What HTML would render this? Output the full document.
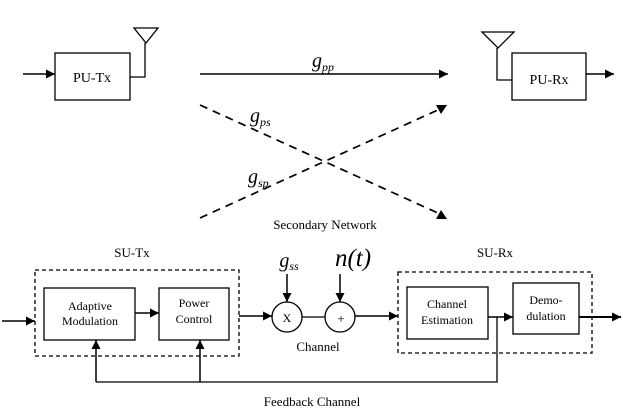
<!DOCTYPE html>
<html><head><meta charset="utf-8"><style>
html,body{margin:0;padding:0;background:#fff;}
svg{display:block;}
text{font-family:"Liberation Serif",serif;fill:#000;}
</style></head><body>
<svg width="623" height="411" viewBox="0 0 623 411" xmlns="http://www.w3.org/2000/svg">
<defs>
<marker id="b" viewBox="0 0 10 10" refX="10" refY="5" markerWidth="9" markerHeight="9" orient="auto" markerUnits="userSpaceOnUse"><path d="M0,0 L10,5 L0,10 z" fill="#000"/></marker>
</defs>
<g stroke="#000" fill="none" stroke-width="1.3">
<rect x="55" y="53" width="75" height="47"/>
<line x1="23" y1="74" x2="55" y2="74" marker-end="url(#b)" stroke-width="1.5"/>
<polyline points="130,77 145,77 145,43"/>
<polygon points="134,28 158,28 146,43"/>
<line x1="200" y1="74" x2="448" y2="74" marker-end="url(#b)" stroke-width="1.5"/>
<rect x="512" y="53" width="74" height="47"/>
<polyline points="512,80 497,80 497,48"/>
<polygon points="482,32 514,32 498,48"/>
<line x1="586" y1="74" x2="614" y2="74" marker-end="url(#b)" stroke-width="1.5"/>
<line x1="200" y1="105" x2="440" y2="214" stroke-dasharray="8,6" stroke-width="1.7"/>
<line x1="200" y1="218" x2="440" y2="109" stroke-dasharray="8,6" stroke-width="1.7"/>
</g>
<text x="92" y="82" font-size="14" text-anchor="middle">PU-Tx</text>
<text x="549" y="84" font-size="14" text-anchor="middle">PU-Rx</text>
<polygon points="436,105 447,105 441,114" fill="#000"/>
<polygon points="436,219 447,219 441,210" fill="#000"/>
<text x="312" y="67" font-size="20" font-style="italic">g<tspan font-size="12" dy="4">pp</tspan></text>
<text x="250" y="122" font-size="20" font-style="italic">g<tspan font-size="12" dy="4">ps</tspan></text>
<text x="248" y="183" font-size="20" font-style="italic">g<tspan font-size="12" dy="4">sp</tspan></text>
<text x="325" y="229" font-size="13" text-anchor="middle">Secondary Network</text>

<text x="132" y="257" font-size="13" text-anchor="middle">SU-Tx</text>
<text x="495" y="257" font-size="13" text-anchor="middle">SU-Rx</text>
<g stroke="#000" fill="none" stroke-width="1.3">
<rect x="35" y="270" width="204" height="86" stroke-dasharray="4,3"/>
<rect x="398" y="272" width="194" height="81" stroke-dasharray="4,3"/>
<rect x="44" y="288" width="91" height="52"/>
<rect x="159" y="288" width="70" height="52"/>
<rect x="407" y="287" width="81" height="52"/>
<rect x="513" y="283" width="66" height="51"/>
<line x1="2" y1="321" x2="35" y2="321" marker-end="url(#b)" stroke-width="1.5"/>
<line x1="135" y1="313" x2="159" y2="313" marker-end="url(#b)" stroke-width="1.5"/>
<line x1="239" y1="316" x2="272" y2="316" marker-end="url(#b)" stroke-width="1.5"/>
<circle cx="287" cy="317" r="15"/>
<circle cx="340" cy="317" r="15"/>
<line x1="302" y1="317" x2="325" y2="317"/>
<line x1="355" y1="316" x2="398" y2="316" marker-end="url(#b)" stroke-width="1.5"/>
<line x1="287" y1="274" x2="287" y2="302" marker-end="url(#b)" stroke-width="1.5"/>
<line x1="340" y1="274" x2="340" y2="302" marker-end="url(#b)" stroke-width="1.5"/>
<line x1="488" y1="317" x2="513" y2="317" marker-end="url(#b)" stroke-width="1.5"/>
<line x1="579" y1="317" x2="621" y2="317" marker-end="url(#b)" stroke-width="2"/>
<polyline points="497,317 497,382 96,382"/>
<line x1="96" y1="382" x2="96" y2="340" marker-end="url(#b)" stroke-width="1.5"/>
<line x1="200" y1="382" x2="200" y2="340" marker-end="url(#b)" stroke-width="1.5"/>
</g>
<text x="289" y="267" font-size="20" font-style="italic" text-anchor="middle">g<tspan font-size="12" dy="3">ss</tspan></text>
<text x="353" y="266" font-size="25" font-style="italic" text-anchor="middle">n(t)</text>
<text x="287" y="322" font-size="12" text-anchor="middle">X</text>
<text x="341" y="323" font-size="13" text-anchor="middle">+</text>
<text x="318" y="351" font-size="13" text-anchor="middle">Channel</text>
<text x="90" y="310" font-size="12" text-anchor="middle">Adaptive</text>
<text x="90" y="325" font-size="12" text-anchor="middle">Modulation</text>
<text x="194" y="307" font-size="12" text-anchor="middle">Power</text>
<text x="194" y="323" font-size="12" text-anchor="middle">Control</text>
<text x="447" y="308" font-size="12" text-anchor="middle">Channel</text>
<text x="447" y="324" font-size="12" text-anchor="middle">Estimation</text>
<text x="546" y="304" font-size="12" text-anchor="middle">Demo-</text>
<text x="546" y="320" font-size="12" text-anchor="middle">dulation</text>
<text x="312" y="406" font-size="13" text-anchor="middle">Feedback Channel</text>
</svg>
</body></html>
